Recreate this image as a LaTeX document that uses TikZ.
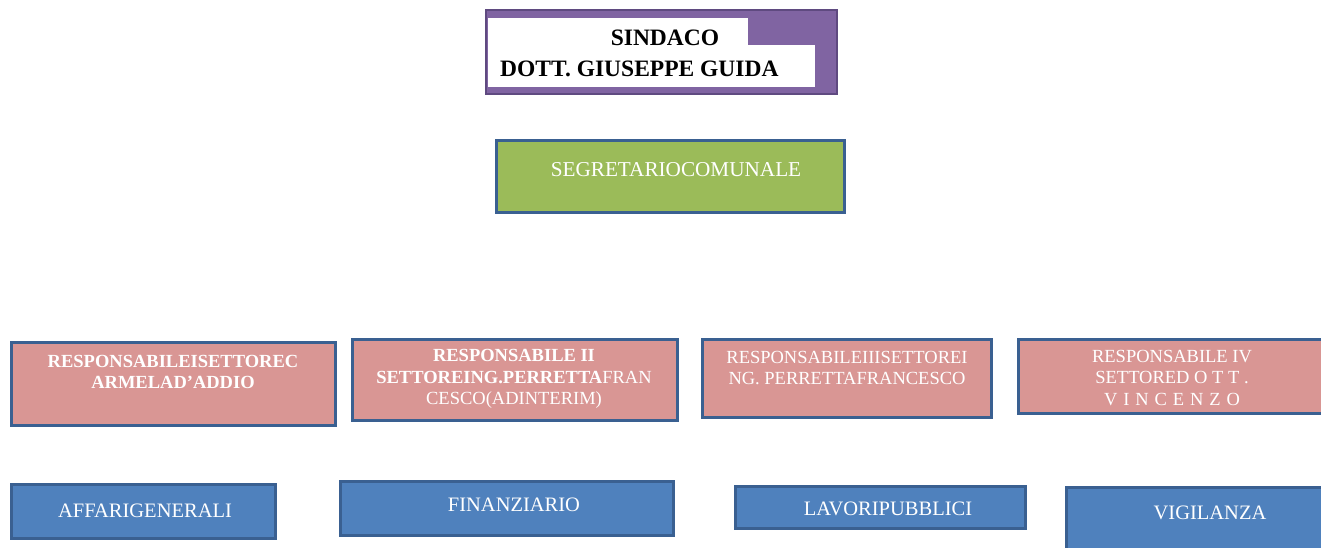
\documentclass[tikz,border=0pt]{standalone}
\usepackage{fontspec}
\setmainfont{Liberation Serif}
\definecolor{pinkfill}{HTML}{D99694}
\definecolor{bluefill}{HTML}{4F81BD}
\definecolor{greenfill}{HTML}{9BBB59}
\definecolor{purplefill}{HTML}{8064A2}
\definecolor{purpleedge}{HTML}{5F4A80}
\definecolor{edgeblue}{HTML}{3A6091}
\tikzset{
  boxbase/.style={rectangle, draw=edgeblue, line width=3pt, inner sep=0pt, outer sep=0pt},
  pinkbox/.style={boxbase, fill=pinkfill},
  bluebox/.style={boxbase, fill=bluefill},
  greenbox/.style={boxbase, fill=greenfill},
  txt/.style={text=white, inner sep=0pt, align=center, font=\fontsize{18.5}{21.5}\selectfont},
  bigtxt/.style={text=white, inner sep=0pt, font=\fontsize{20.5}{24}\selectfont},
  blk/.style={text=black, inner sep=0pt, font=\bfseries\fontsize{23.5}{28}\selectfont}
}
\begin{document}
\begin{tikzpicture}[x=1pt,y=-1pt]
\useasboundingbox (0,0) rectangle (1321,548);
\clip (0,0) rectangle (1321,548);
% Sindaco
\draw[fill=purplefill, draw=purpleedge, line width=2pt] (486,10) rectangle (837,94);
\fill[white] (488,18) rectangle (748,46);
\fill[white] (488,45) rectangle (815,87);
\node[blk] (sind) at (665,38) {SINDACO};
\node[blk, anchor=west] (guida) at (500,69) {DOTT. GIUSEPPE GUIDA};
% Segretario
\draw[greenbox] (496,141) rectangle (844,212);
\node[bigtxt, font=\fontsize{21.2}{24}\selectfont] (segr) at (676,170) {SEGRETARIOCOMUNALE};
% Pink boxes
\draw[pinkbox] (11,342) rectangle (335,425);
\node[txt, font=\bfseries\fontsize{18.5}{21.5}\selectfont] (r1) at (173,372) {RESPONSABILEISETTOREC\\ARMELAD’ADDIO};
\draw[pinkbox] (352,339) rectangle (677,420);
\node[txt] (r2) at (514,379) {\textbf{RESPONSABILE II}\\\textbf{SETTOREING.PERRETTA}FRAN\\CESCO(ADINTERIM)};
\draw[pinkbox] (702,339) rectangle (991,417);
\node[txt] (r3) at (847,368) {RESPONSABILEIIISETTOREI\\NG. PERRETTAFRANCESCO};
\draw[pinkbox] (1018,339) rectangle (1330,413);
\node[txt] (r4) at (1172,378) {RESPONSABILE IV\\SETTORED O T T .\\{\addfontfeature{LetterSpace=7}V I N C E N Z O}};
% Blue boxes
\draw[bluebox] (11,484) rectangle (275,538);
\node[bigtxt] (b1) at (145,511) {AFFARIGENERALI};
\draw[bluebox] (340,481) rectangle (673,535);
\node[bigtxt] (b2) at (514,505) {FINANZIARIO};
\draw[bluebox] (735,486) rectangle (1025,528);
\node[bigtxt] (b3) at (888,509) {LAVORIPUBBLICI};
\draw[bluebox] (1066,487) rectangle (1330,560);
\node[bigtxt] (b4) at (1210,513) {VIGILANZA};
\end{tikzpicture}
\end{document}
